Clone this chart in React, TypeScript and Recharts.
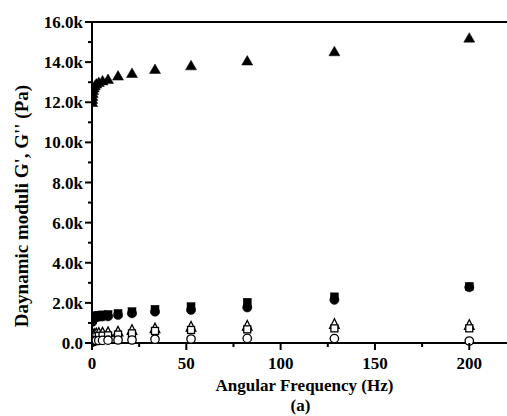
import React from 'react';
import { ScatterChart, Scatter, XAxis, YAxis, ReferenceLine, Label } from 'recharts';

const freq = [0.1, 0.16, 0.24, 0.38, 0.6, 0.94, 1.5, 2.3, 3.6, 5.6, 8.5, 13.8, 21.2, 33.4, 52.5, 82.3, 128.5, 200];
const gFilledTri = [12000, 12150, 12300, 12450, 12600, 12720, 12830, 12920, 13000, 13080, 13150, 13320, 13450, 13650, 13830, 14070, 14530, 15210];
const gFilledSq = [1150, 1200, 1240, 1270, 1300, 1320, 1340, 1360, 1380, 1400, 1420, 1470, 1560, 1680, 1810, 2030, 2300, 2820];
const gFilledCirc = [1050, 1100, 1150, 1190, 1220, 1250, 1270, 1290, 1310, 1320, 1330, 1400, 1480, 1560, 1650, 1770, 2150, 2780];
const gOpenTri = [200, 250, 300, 340, 380, 420, 450, 480, 500, 520, 540, 570, 650, 730, 810, 860, 950, 900];
const gOpenSq = [100, 140, 180, 220, 260, 290, 310, 330, 350, 365, 380, 420, 480, 600, 650, 680, 730, 730];
const gOpenCirc = [50, 60, 70, 80, 90, 100, 110, 120, 125, 130, 140, 150, 150, 190, 200, 230, 220, 100];

const xTicks = [0, 25, 50, 75, 100, 125, 150, 175, 200];
const yTicks = [0, 1000, 2000, 3000, 4000, 5000, 6000, 7000, 8000, 9000, 10000, 11000, 12000, 13000, 14000, 15000, 16000];

const FONT = '"Liberation Serif", "Times New Roman", serif';

const toData = (ys: number[]) => freq.map((f, i) => ({ x: f, y: ys[i] }));

const triShape = (filled: boolean) => (p: any) => {
  const { cx, cy } = p;
  const w = filled ? 5.5 : 4.8;
  const pts = `${cx},${cy - 5.2} ${cx - w},${cy + 4.3} ${cx + w},${cy + 4.3}`;
  return <polygon points={pts} fill={filled ? '#000' : '#fff'} stroke="#000" strokeWidth={filled ? 0.5 : 1.3} />;
};
const sqShape = (filled: boolean) => (p: any) => {
  const { cx, cy } = p;
  const s = filled ? 8 : 7;
  return <rect x={cx - s / 2} y={cy - s / 2} width={s} height={s} fill={filled ? '#000' : '#fff'} stroke="#000" strokeWidth={filled ? 0.5 : 1.3} />;
};
const circShape = (filled: boolean) => (p: any) => {
  const { cx, cy } = p;
  return <circle cx={cx} cy={cy} r={filled ? 4.6 : 4.2} fill={filled ? '#000' : '#fff'} stroke="#000" strokeWidth={filled ? 0.5 : 1.3} />;
};

const XTick = (props: any) => {
  const { x, y, payload } = props;
  const major = payload.value % 50 === 0;
  return (
    <g>
      <line x1={x} x2={x} y1={y} y2={y + (major ? 7 : 4)} stroke="#000" strokeWidth={2} />
      {major && (
        <text x={x} y={y + 26} textAnchor="middle" fontFamily={FONT} fontWeight="bold" fontSize={17} fill="#000">
          {payload.value}
        </text>
      )}
    </g>
  );
};

const YTick = (props: any) => {
  const { x, y, payload } = props;
  const v = payload.value;
  const major = v % 2000 === 0;
  const label = v === 0 ? '0.0' : `${(v / 1000).toFixed(1)}k`;
  return (
    <g>
      <line x1={x - (major ? 7 : 4)} x2={x} y1={y} y2={y} stroke="#000" strokeWidth={2} />
      {major && (
        <text x={x - 9} y={y + 6} textAnchor="end" fontFamily={FONT} fontWeight="bold" fontSize={17} fill="#000">
          {label}
        </text>
      )}
    </g>
  );
};

const XLabel = (props: any) => {
  const vb = props.viewBox || { x: 92, y: 343, width: 415, height: 73 };
  const cx = vb.x + vb.width / 2 + 5;
  return (
    <g>
      <text x={cx} y={vb.y + 48} textAnchor="middle" fontFamily={FONT} fontWeight="bold" fontSize={17} fill="#000">
        Angular Frequency (Hz)
      </text>
      <text x={cx - 4} y={vb.y + 68} textAnchor="middle" fontFamily={FONT} fontWeight="bold" fontSize={17} fill="#000">
        (a)
      </text>
    </g>
  );
};

const YLabel = () => (
  <text x={28} y={206} transform="rotate(-90, 28, 206)" textAnchor="middle" fontFamily={FONT} fontWeight="bold" fontSize={19} fill="#000">
    Daynamic moduli G', G'' (Pa)
  </text>
);

export default function App() {
  return (
    <div style={{ position: 'absolute', left: 0, top: 0, background: '#fff' }}>
      <ScatterChart width={507} height={416} margin={{ top: 22, right: 0, bottom: 0, left: 0 }}>
        <XAxis
          type="number"
          dataKey="x"
          domain={[0, 220]}
          ticks={xTicks}
          interval={0}
          height={73}
          tickSize={0}
          tickMargin={0}
          tickLine={false}
          tick={<XTick />}
          axisLine={{ stroke: '#000', strokeWidth: 2 }}
          allowDataOverflow
        >
          <Label content={<XLabel />} />
        </XAxis>
        <YAxis
          type="number"
          dataKey="y"
          domain={[0, 16000]}
          ticks={yTicks}
          interval={0}
          width={92}
          tickSize={0}
          tickMargin={0}
          tickLine={false}
          tick={<YTick />}
          axisLine={{ stroke: '#000', strokeWidth: 2 }}
        >
          <Label content={<YLabel />} />
        </YAxis>
        <ReferenceLine y={16000} stroke="#000" strokeWidth={2} />
        <Scatter data={toData(gFilledTri)} shape={triShape(true)} isAnimationActive={false} />
        <Scatter data={toData(gFilledSq)} shape={sqShape(true)} isAnimationActive={false} />
        <Scatter data={toData(gFilledCirc)} shape={circShape(true)} isAnimationActive={false} />
        <Scatter data={toData(gOpenTri)} shape={triShape(false)} isAnimationActive={false} />
        <Scatter data={toData(gOpenSq)} shape={sqShape(false)} isAnimationActive={false} />
        <Scatter data={toData(gOpenCirc)} shape={circShape(false)} isAnimationActive={false} />
      </ScatterChart>
    </div>
  );
}
